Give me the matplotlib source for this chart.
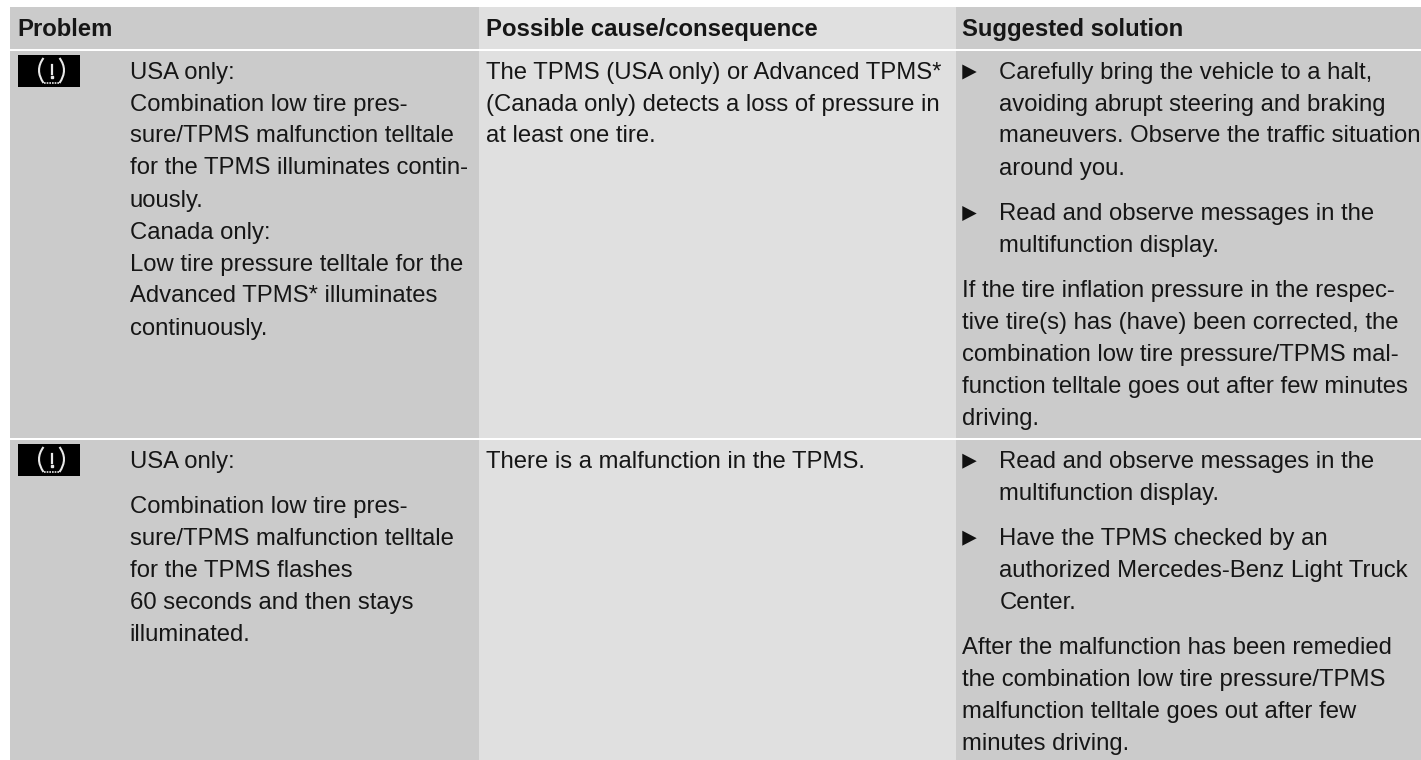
import matplotlib
matplotlib.use('Agg')
import matplotlib.pyplot as plt
from matplotlib.patches import Rectangle, Polygon, PathPatch
from matplotlib.path import Path

W = 1421
H = 760
BG = '#cbcbcb'
MID = '#e0e0e0'
TXT = '#161616'

headers = ['Problem', 'Possible cause/consequence', 'Suggested solution']
headers_x = [17, 486, 962]

problem_1 = ['USA only:', 'Combination low tire pres-', 'sure/TPMS malfunction telltale',
             'for the TPMS illuminates contin-', 'uously.', 'Canada only:',
             'Low tire pressure telltale for the', 'Advanced TPMS* illuminates', 'continuously.']
problem_1_y = [78.5, 110.5, 142.5, 174.5, 206.5, 238.5, 270.5, 302.5, 334.5]
problem_2 = ['USA only:', 'Combination low tire pres-', 'sure/TPMS malfunction telltale',
             'for the TPMS flashes', '60 seconds and then stays', 'illuminated.']
problem_2_y = [467.7, 512.7, 544.7, 576.7, 608.7, 640.7]

cause_1 = ['The TPMS (USA only) or Advanced TPMS*', '(Canada only) detects a loss of pressure in', 'at least one tire.']
cause_1_y = [78.5, 110.5, 142.5]
cause_2 = ['There is a malfunction in the TPMS.']
cause_2_y = [467.7]

bullets_1 = ['Carefully bring the vehicle to a halt,', 'avoiding abrupt steering and braking',
             'maneuvers. Observe the traffic situation', 'around you.',
             'Read and observe messages in the', 'multifunction display.']
bullets_1_y = [78.5, 110.5, 142.5, 174.5, 220, 252]
para_1 = ['If the tire inflation pressure in the respec-', 'tive tire(s) has (have) been corrected, the',
          'combination low tire pressure/TPMS mal-', 'function telltale goes out after few minutes', 'driving.']
para_1_y = [296.7, 328.7, 360.7, 392.7, 424.7]

bullets_2 = ['Read and observe messages in the', 'multifunction display.',
             'Have the TPMS checked by an', 'authorized Mercedes-Benz Light Truck', 'Center.']
bullets_2_y = [467.7, 499.7, 544.7, 576.7, 608.7]
para_2 = ['After the malfunction has been remedied', 'the combination low tire pressure/TPMS',
          'malfunction telltale goes out after few', 'minutes driving.']
para_2_y = [654.3, 686.3, 718.3, 750.3]

arrows_y = [78.5, 220, 467.7, 544.7]
icons_y = [55, 444]

plt.rcParams['font.family'] = ['Liberation Sans', 'DejaVu Sans']
fig = plt.figure(figsize=(W / 100, H / 100), dpi=100, facecolor='white')
ax = fig.add_axes([0, 0, 1, 1])
ax.set_xlim(0, W)
ax.set_ylim(H, 0)
ax.axis('off')


def box(x0, x1, y0, y1, c):
    ax.add_patch(Rectangle((x0, y0), x1 - x0, y1 - y0, fc=c, ec='none'))


def put(x, y, s, **kw):
    ax.text(x, y, s, fontsize=17.2, color=TXT, va='baseline', ha='left', **kw)


def lines(x, ys, strs):
    for y, s in zip(ys, strs):
        put(x, y, s)


def icon(y):
    box(18, 80, y, y + 32, 'black')
    cx = 51.5
    for sgn in (-1, 1):
        verts = [(cx + sgn * 8, y + 3), (cx + sgn * 17, y + 15), (cx + sgn * 8, y + 28)]
        p = Path(verts, [Path.MOVETO, Path.CURVE3, Path.CURVE3])
        ax.add_patch(PathPatch(p, fc='none', ec='#e8e8e8', lw=1.5))
    ax.plot([cx - 8, cx + 8], [y + 28, y + 28], color='#e8e8e8', lw=1.2, ls=(0, (1, 0.6)))
    ax.plot([cx, cx], [y + 10, y + 19], color='#e8e8e8', lw=1.6)
    ax.plot([cx], [y + 22], 's', color='#e8e8e8', ms=1.6)


def arrow(y):
    ax.add_patch(Polygon([(962.3, y - 14), (962.3, y + 1), (976.7, y - 6.5)], fc='#111111', ec='none'))


for y0, y1 in [(7, 48.7), (51, 438), (440, 760)]:
    box(10, 479, y0, y1, BG)
    box(479, 956, y0, y1, MID)
    box(956, W, y0, y1, BG)

for x, h in zip(headers_x, headers):
    put(x, 35.7, h, fontweight='bold')

for y in icons_y:
    icon(y)

lines(129.7, problem_1_y, problem_1)
lines(129.7, problem_2_y, problem_2)
lines(485.5, cause_1_y, cause_1)
lines(485.5, cause_2_y, cause_2)
lines(999.3, bullets_1_y, bullets_1)
lines(961.7, para_1_y, para_1)
lines(999.3, bullets_2_y, bullets_2)
lines(961.7, para_2_y, para_2)

for y in arrows_y:
    arrow(y)

fig.savefig('out.png', dpi=100, facecolor='white')
